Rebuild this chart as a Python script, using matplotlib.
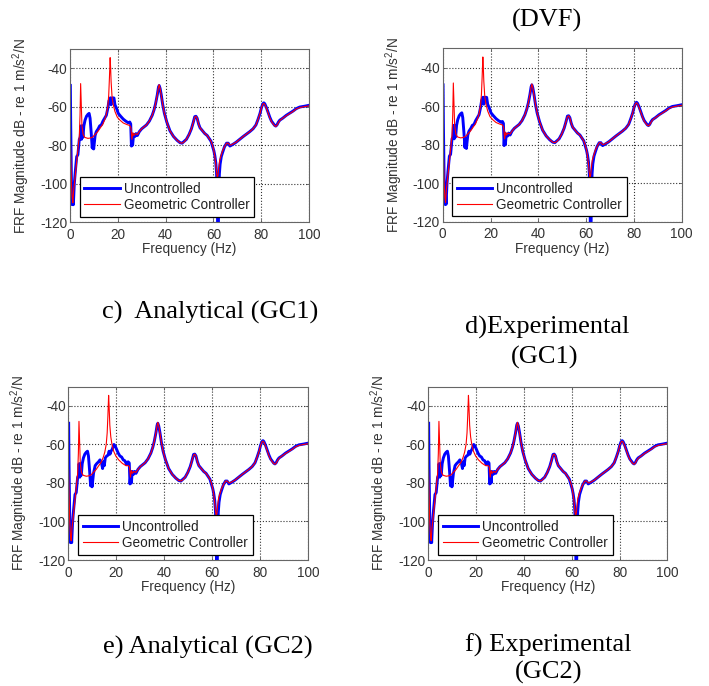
import numpy as np
import matplotlib
matplotlib.use('Agg')
import matplotlib.pyplot as plt

plt.rcParams['font.family'] = ['Liberation Sans', 'DejaVu Sans']
plt.rcParams['mathtext.fontset'] = 'custom'
plt.rcParams['mathtext.rm'] = 'Liberation Sans'
plt.rcParams['mathtext.it'] = 'Liberation Sans:italic'
plt.rcParams['axes.unicode_minus'] = False

# --- data (frequency Hz, magnitude dB) ---
# uncontrolled, shared low band 0-10 Hz
unc_low = [(0.15, -49), (0.3, -70), (0.5, -90), (0.7, -108), (0.9, -111), (1.1, -104),
           (1.4, -111), (1.8, -100), (2.2, -94), (2.8, -86), (3.3, -85), (3.9, -77),
           (4.3, -76), (4.5, -70), (4.8, -77), (5.1, -70), (5.4, -76), (5.8, -70),
           (6.3, -67), (6.9, -65), (7.5, -64), (8.0, -63.5), (8.4, -66), (8.9, -74),
           (9.3, -81.5), (9.6, -77), (9.9, -82)]
# uncontrolled mid band, top row
unc_mid_top = [(10.5, -75), (11.0, -73), (11.8, -71.5), (12.4, -70), (13.1, -69.5),
               (13.8, -67.5), (14.5, -66), (15.2, -64.5), (15.8, -61), (16.3, -57),
               (16.9, -55.4), (17.2, -59), (17.6, -55.5), (18.0, -55.4), (18.4, -55.5),
               (18.8, -59), (19.5, -61), (20.2, -63.5), (21.2, -65), (22.3, -66.5),
               (23.3, -67.5), (24.4, -68.4), (25.0, -68), (25.4, -69), (25.7, -80.5),
               (25.9, -76), (26.2, -80), (26.6, -74.5)]
# uncontrolled mid band, bottom row
unc_mid_bot = [(10.5, -75), (11.2, -71), (11.8, -70), (12.6, -69), (13.2, -68),
               (13.8, -69.5), (14.3, -72.5), (14.6, -69), (15.0, -71), (15.4, -67),
               (16.0, -66), (16.6, -65.5), (17.0, -63.5), (17.4, -65), (17.8, -63.5),
               (18.3, -62.5), (19.0, -60), (19.6, -61), (20.1, -62.5), (20.8, -64.5),
               (21.5, -66), (22.2, -66.5), (22.9, -68), (23.6, -68.5), (24.3, -70.5),
               (24.9, -69), (25.4, -69.6), (25.7, -80.5), (26.0, -76), (26.3, -80),
               (26.6, -74)]
# uncontrolled, shared high band
unc_high = [(27.2, -75.5), (27.6, -74), (28.2, -75), (29.0, -73), (30.0, -71.5),
            (31.0, -70.5), (32.0, -69.5), (33.2, -67.5), (34.4, -64.5), (35.2, -61.5),
            (35.8, -58.5), (36.5, -54), (37.0, -50), (37.3, -49), (37.7, -50.5),
            (38.2, -54), (38.8, -59), (39.5, -63.5), (40.5, -68), (41.8, -72.5),
            (43.3, -75.5), (44.8, -77.5), (46.0, -78.7), (46.9, -79), (47.8, -78),
            (48.7, -77), (49.8, -74.5), (50.8, -71.5), (51.5, -68.5), (52.2, -65.2),
            (52.7, -65), (53.2, -66), (53.8, -69), (54.4, -71), (55.4, -72.5),
            (56.4, -74), (57.4, -75), (58.2, -76.5), (59.0, -78), (59.6, -80.5),
            (60.2, -83), (60.6, -85.5), (61.0, -89), (61.3, -94), (61.6, -105),
            (61.8, -125), (62.0, -130), (62.2, -110), (62.5, -95), (62.8, -90),
            (63.3, -86), (63.8, -84), (64.6, -81), (65.5, -79), (66.2, -79),
            (66.9, -80.5), (67.6, -80), (68.3, -79.5), (69.5, -78.5), (71.0, -77),
            (72.5, -75.5), (73.8, -74.3), (75.2, -73), (76.6, -71.5), (77.8, -69.5),
            (78.7, -66.5), (79.5, -63.5), (80.1, -60.5), (80.7, -58.5), (81.1, -58),
            (81.5, -58.5), (82.2, -60.5), (82.9, -63), (83.6, -65.5), (84.3, -67.5),
            (85.0, -68.7), (85.6, -69.7), (86.1, -70.1), (86.6, -69.5), (87.2, -68),
            (87.8, -67), (89.0, -66), (90.5, -64.5), (92.0, -63.3), (93.3, -62.3),
            (94.7, -61), (96.1, -60.2), (98.0, -59.8), (100.0, -59.3)]

# geometric controller, shared low band
ctl_low = [(0.1, -73), (0.3, -85), (0.6, -100), (0.9, -107), (1.2, -110), (1.5, -104),
           (2.2, -96), (3.1, -85), (3.9, -75), (4.2, -64.5), (4.45, -48), (4.7, -58),
           (5.0, -70), (5.5, -74.5), (6.2, -76), (7.5, -76.5), (8.5, -76.3),
           (9.5, -75.8), (10.5, -74.5), (11.6, -73), (12.7, -71), (13.8, -69),
           (14.6, -66.5), (15.2, -64), (15.8, -60), (16.2, -54), (16.5, -45),
           (16.8, -34.5)]
ctl_mid_top = [(17.0, -40), (17.2, -47), (17.6, -55), (18.1, -59), (18.8, -62.5),
               (19.8, -65.5), (20.9, -67), (22.3, -68.5), (23.8, -69.3), (25.0, -69.8),
               (25.5, -71), (25.9, -77), (26.3, -73.5), (26.7, -75), (27.3, -74),
               (28.2, -74.5), (29.0, -73)]
ctl_mid_bot = [(17.0, -40), (17.3, -50), (17.7, -56), (18.2, -60), (18.9, -63.5),
               (19.8, -66), (21.0, -68), (22.5, -69.8), (24.0, -71), (25.0, -71),
               (25.5, -71.5), (25.9, -77), (26.3, -73.5), (26.7, -75), (27.3, -74),
               (28.2, -74.5), (29.0, -73)]
ctl_high = [(30.0, -71.5), (31.0, -70.5), (32.0, -69.5), (33.2, -67.5), (34.4, -64.5),
            (35.2, -61.5), (35.8, -58.5), (36.5, -54), (37.0, -50), (37.3, -48.5),
            (37.7, -50.5), (38.2, -54.5), (38.8, -59), (39.5, -63.5), (40.5, -68),
            (41.8, -72.5), (43.3, -75.5), (44.8, -77.5), (46.0, -78.7), (46.9, -79),
            (47.8, -78.3), (48.7, -77), (49.8, -74.5), (50.8, -71.5), (51.5, -68.5),
            (52.2, -65.5), (52.7, -65), (53.2, -66), (53.8, -69), (54.4, -71),
            (55.4, -72.5), (56.4, -74), (57.4, -75), (58.2, -76.5), (59.0, -78),
            (59.6, -80), (60.2, -83), (60.6, -86), (61.0, -90), (61.3, -94),
            (61.6, -97), (61.9, -96), (62.2, -92), (62.6, -88), (63.3, -85),
            (63.8, -83), (64.6, -81), (65.5, -79), (66.2, -79), (66.9, -80),
            (67.6, -79.8), (68.3, -79.3), (69.5, -78.5), (71.0, -77), (72.5, -75.5),
            (73.8, -74.3), (75.2, -73), (76.6, -71.5), (77.8, -69.5), (78.7, -66.5),
            (79.5, -63.5), (80.1, -60.5), (80.7, -58.7), (81.1, -58.3), (81.5, -58.8),
            (82.2, -60.8), (82.9, -63.3), (83.6, -65.8), (84.3, -67.8), (85.0, -69),
            (85.6, -69.9), (86.1, -70.3), (86.6, -69.7), (87.2, -68.3), (87.8, -67.2),
            (89.0, -66), (90.5, -64.7), (92.0, -63.5), (93.3, -62.5), (94.7, -61.2),
            (96.1, -60.5), (98.0, -60), (100.0, -59.6)]

xticks = [0, 20, 40, 60, 80, 100]
yticks = [-120, -100, -80, -60, -40]
labels = ['Uncontrolled', 'Geometric Controller']

panels = [
    (unc_low + unc_mid_top + unc_high, ctl_low + ctl_mid_top + ctl_high),
    (unc_low + unc_mid_top + unc_high, ctl_low + ctl_mid_top + ctl_high),
    (unc_low + unc_mid_bot + unc_high, ctl_low + ctl_mid_bot + ctl_high),
    (unc_low + unc_mid_bot + unc_high, ctl_low + ctl_mid_bot + ctl_high),
]

W, H = 709, 686
fig = plt.figure(figsize=(W / 100, H / 100), dpi=100)

# axes boxes in pixels: left, top, right, bottom
boxes = [(70, 49, 309, 222), (442.7, 48.3, 681.7, 221.7),
         (68.3, 386.7, 308.3, 560), (428.3, 386.7, 667.3, 560)]

for (l, t, r, b), (unc, ctl) in zip(boxes, panels):
    ax = fig.add_axes([l / W, 1 - b / H, (r - l) / W, (b - t) / H])
    u = np.array(unc).T
    c = np.array(ctl).T
    ax.plot(u[0], u[1], color='#0000ff', lw=2.1, label=labels[0])
    ax.plot(c[0], c[1], color='#ff0000', lw=0.8, label=labels[1])
    ax.set_xlim(0, 100)
    ax.set_ylim(-120, -30)
    ax.set_xticks(xticks)
    ax.set_yticks(yticks)
    ax.grid(True, linestyle=':', color='#333333', lw=0.8)
    ax.set_axisbelow(True)
    ax.tick_params(direction='in', length=2, width=0.6, colors='#555555',
                   labelcolor='#333333', labelsize=9.8, top=True, right=True)
    ax.tick_params(axis='y', pad=2)
    ax.tick_params(axis='x', pad=4)
    for sp in ax.spines.values():
        sp.set_color('#666666')
        sp.set_linewidth(0.8)
    ax.set_xlabel('Frequency (Hz)', fontsize=9.8, color='#333333')
    ax.set_ylabel('FRF Magnitude dB - re 1 m/s$^2$/N', fontsize=9.8, color='#333333')
    ax.xaxis.set_label_coords(0.5, -20 / (b - t))
    ax.yaxis.set_label_coords(-38 / (r - l), 0.5)
    leg = ax.legend(loc='lower left', bbox_to_anchor=(0.04, 0.03), borderaxespad=0,
                    fancybox=False, framealpha=1, edgecolor='k', fontsize=9.8,
                    handlelength=2.6, handletextpad=0.3, borderpad=0.35,
                    labelspacing=0.15)
    leg.get_frame().set_linewidth(0.9)
    for txt in leg.get_texts():
        txt.set_color('#222222')

serif = ['Liberation Serif', 'DejaVu Serif']
captions = [
    ('(DVF)', 547, 20),
    ('c)  Analytical (GC1)', 210, 312),
    ('d)Experimental', 547, 327),
    ('(GC1)', 545, 357),
    ('e) Analytical (GC2)', 208, 647),
    ('f) Experimental', 548, 645),
    ('(GC2)', 549, 672),
]
for s, x, y in captions:
    fig.text(x / W, 1 - y / H, s, family=serif, fontsize=19, ha='center',
             va='center', color='black')

fig.savefig('out.png', dpi=100)
